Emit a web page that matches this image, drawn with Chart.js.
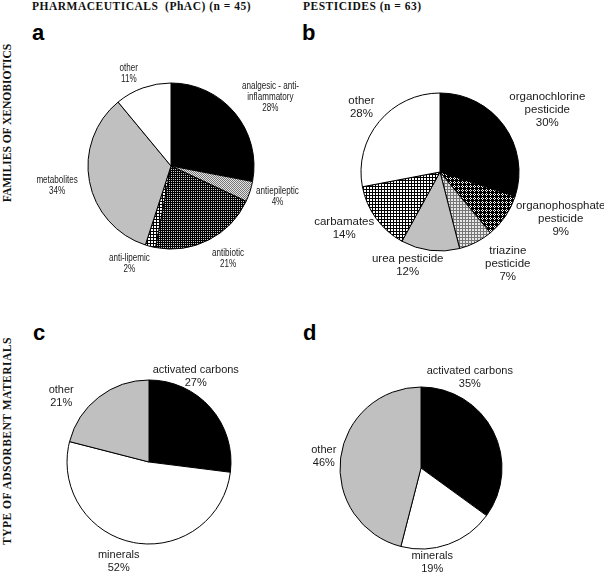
<!DOCTYPE html>
<html>
<head>
<meta charset="utf-8">
<script src="https://cdn.jsdelivr.net/npm/chart.js@4"></script>
<style>
  html, body { margin: 0; padding: 0; background: #fff; }
  #wrap { position: relative; width: 604px; height: 574px; overflow: hidden; }
  #wrap canvas { position: absolute; left: 0; top: 0; }
  .title { position: absolute; font: bold 11.5px "Liberation Serif", serif; letter-spacing: 0.5px; color: #111; white-space: nowrap; }
  .side { position: absolute; font: bold 11.5px "Liberation Serif", serif; color: #111; white-space: nowrap;
          transform: translate(-50%, -50%) rotate(-90deg); }
  .letter { position: absolute; font: bold 22px "Liberation Sans", Arial, sans-serif; color: #000; }
</style>
</head>
<body>
<div id="wrap">
  <div class="title" style="left:32px; top:0px;">PHARMACEUTICALS&nbsp;&nbsp;(PhAC) (n = 45)</div>
  <div class="title" style="left:303px; top:0px;">PESTICIDES (n = 63)</div>
  <div class="side" style="left:7px; top:123px;">FAMILIES OF XENOBIOTICS</div>
  <div class="side" style="left:7px; top:441px; letter-spacing:0.5px;">TYPE OF ADSORBENT MATERIALS</div>
  <div class="letter" style="left:32px; top:20px;">a</div>
  <div class="letter" style="left:302px; top:20px;">b</div>
  <div class="letter" style="left:33px; top:320px;">c</div>
  <div class="letter" style="left:303px; top:320px;">d</div>
  <canvas id="pieA" width="604" height="574"></canvas>
  <canvas id="pieB" width="604" height="574"></canvas>
  <canvas id="pieC" width="604" height="574"></canvas>
  <canvas id="pieD" width="604" height="574"></canvas>
</div>
<script>
// --- data ---
const pharmaLabels = ['analgesic - anti-\ninflammatory', 'antiepileptic', 'antibiotic', 'anti-lipemic', 'metabolites', 'other'];
const pharmaValues = [28, 4, 21, 2, 34, 11];

const pestLabels = ['organochlorine\npesticide', 'organophosphate\npesticide', 'triazine\npesticide', 'urea pesticide', 'carbamates', 'other'];
const pestValues = [30, 9, 7, 12, 14, 28];

const sorbLabels = ['activated carbons', 'minerals', 'other'];
const sorbPharmaValues = [27, 52, 21];
const sorbPestValues = [35, 19, 46];

// --- fill patterns ---
function pattern(size, draw) {
  const c = document.createElement('canvas');
  c.width = size; c.height = size;
  const g = c.getContext('2d');
  draw(g);
  return g.createPattern(c, 'repeat');
}
const dotsDark = pattern(2, g => { g.fillStyle = '#000'; g.fillRect(0, 0, 2, 2); g.fillStyle = '#ccc'; g.fillRect(1, 1, 1, 1); });
const mottled = pattern(2, g => { g.fillStyle = '#e4e4e4'; g.fillRect(0, 0, 2, 2); g.fillStyle = '#777'; g.fillRect(0, 0, 1, 1); g.fillRect(1, 1, 1, 1); });
const gridBlack = pattern(3, g => { g.fillStyle = '#fff'; g.fillRect(0, 0, 3, 3); g.fillStyle = '#000'; g.fillRect(0, 0, 3, 1); g.fillRect(0, 0, 1, 3); });
const gridGray = pattern(3, g => { g.fillStyle = '#e8e8e8'; g.fillRect(0, 0, 3, 3); g.fillStyle = '#777'; g.fillRect(0, 0, 3, 1); g.fillRect(0, 0, 1, 3); });
const crossHatch = pattern(4, g => {
  g.fillStyle = '#000'; g.fillRect(0, 0, 4, 4); g.fillStyle = '#fff';
  g.fillRect(2, 1, 1, 1); g.fillRect(1, 2, 1, 1); g.fillRect(3, 2, 1, 1); g.fillRect(2, 3, 1, 1);
});
const GRAY = '#c0c0c0';

// slice text drawn around the pie from each arc's mid angle
const sliceText = {
  id: 'sliceText',
  afterDraw(chart, args, opts) {
    const ctx = chart.ctx;
    const meta = chart.getDatasetMeta(0);
    const values = chart.data.datasets[0].data;
    ctx.save();
    ctx.font = opts.font;
    ctx.fillStyle = '#1a1a1a';
    ctx.textAlign = 'center';
    ctx.textBaseline = 'middle';
    meta.data.forEach((arc, i) => {
      const p = arc.getProps(['x', 'y', 'startAngle', 'endAngle', 'outerRadius'], true);
      const mid = (p.startAngle + p.endAngle) / 2;
      const d = p.outerRadius + opts.gaps[i];
      const px = p.x + d * Math.cos(mid) + opts.nudges[i][0];
      const py = p.y + d * Math.sin(mid) + opts.nudges[i][1];
      const lines = chart.data.labels[i].split('\n').concat(values[i] + '%');
      const y0 = py - (lines.length - 1) * opts.lineHeight / 2;
      lines.forEach((t, k) => {
        ctx.save();
        ctx.translate(px, y0 + k * opts.lineHeight);
        ctx.scale(opts.hScale || 1, 1);
        ctx.fillText(t, 0, 0);
        ctx.restore();
      });
    });
    ctx.restore();
  }
};

function makePie(id, labels, values, fills, place, text) {
  const W = 604, H = 574;
  const r = place.r;
  new Chart(document.getElementById(id), {
    type: 'pie',
    data: {
      labels: labels,
      datasets: [{
        data: values,
        backgroundColor: fills,
        borderColor: '#000',
        borderWidth: 1
      }]
    },
    options: {
      responsive: false,
      animation: false,
      events: [],
      layout: {
        padding: {
          left: place.cx - r - 0.5,
          top: place.cy - r - 0.5,
          right: W - (place.cx + r + 0.5),
          bottom: H - (place.cy + r + 0.5)
        }
      },
      plugins: {
        legend: { display: false },
        tooltip: { enabled: false },
        sliceText: text
      }
    },
    plugins: [sliceText]
  });
}

makePie('pieA', pharmaLabels, pharmaValues,
  ['#000', mottled, dotsDark, gridBlack, GRAY, '#fff'],
  { cx: 171, cy: 166, r: 83 },
  { font: '10.5px "Liberation Sans", Arial, sans-serif', lineHeight: 11, hScale: 0.77,
    gaps: [37, 30, 25, 24, 33, 18],
    nudges: [[7, 8], [-1, -4], [8, -4], [-15, -6], [0, -2], [-8, 3]] });

makePie('pieB', pestLabels, pestValues,
  ['#000', crossHatch, gridGray, GRAY, gridBlack, '#fff'],
  { cx: 440, cy: 172, r: 79 },
  { font: '11.5px "Liberation Sans", Arial, sans-serif', lineHeight: 13,
    gaps: [45, 50, 35, 19, 32, 23],
    nudges: [[7, 11], [14, -26], [16, -10], [-20, -4], [-6, -9], [0, 0]] });

makePie('pieC', sorbLabels, sorbPharmaValues,
  ['#000', '#fff', GRAY],
  { cx: 149, cy: 462, r: 82 },
  { font: '11px "Liberation Sans", Arial, sans-serif', lineHeight: 13,
    gaps: [15, 21, 27],
    nudges: [[-26, -21], [-11, -2], [-21, 21]] });

makePie('pieD', sorbLabels, sorbPestValues,
  ['#000', '#fff', GRAY],
  { cx: 421, cy: 468, r: 81 },
  { font: '11px "Liberation Sans", Arial, sans-serif', lineHeight: 13,
    gaps: [22, 14, 17],
    nudges: [[-43, -44], [-21, 5], [0, 1]] });
</script>
</body>
</html>
